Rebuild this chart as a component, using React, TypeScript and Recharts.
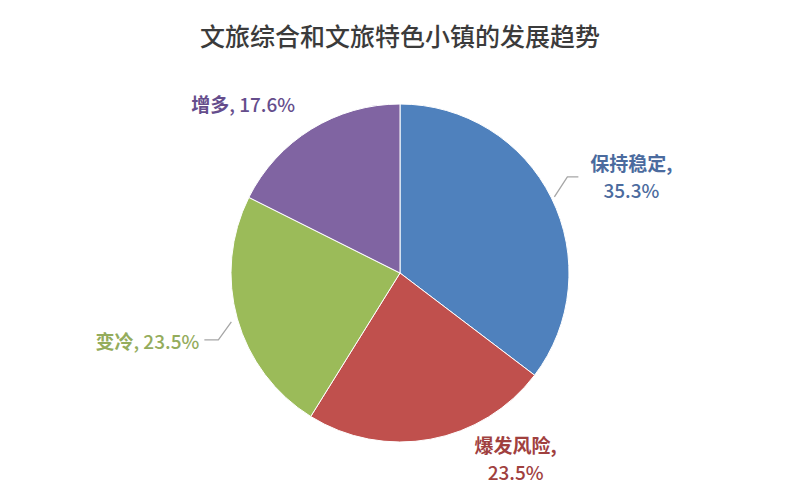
import React from 'react';
import { PieChart, Pie, Cell } from 'recharts';

const categories = ['保持稳定', '爆发风险', '变冷', '增多'];
const values = [35.3, 23.5, 23.5, 17.6];
const sliceColors = ['#4F81BD', '#C0504D', '#9BBB59', '#8064A2'];
const labelColors = ['#4B6B9E', '#A0403E', '#94AC5C', '#654D8C'];
const title = '文旅综合和文旅特色小镇的发展趋势';

const data = categories.map((name, i) => ({ name, value: values[i] }));

// label layout (offsets from the slice's outer edge point at midAngle)
const labelLayout = [
  { dx: 80, dy: -36, twoLine: true, anchor: 'middle', leader: true },
  { dx: 85, dy: 5, twoLine: true, anchor: 'middle', leader: false },
  { dx: -38, dy: 21, twoLine: false, anchor: 'end', leader: true },
  { dx: -16, dy: -26, twoLine: false, anchor: 'end', leader: false },
];

const FONT = '"Noto Sans CJK SC", "Noto Sans", sans-serif';

const renderLabel = (props: any) => {
  const { cx, cy, midAngle, outerRadius, index, name, value } = props;
  const RAD = Math.PI / 180;
  const ex = cx + outerRadius * Math.cos(-midAngle * RAD);
  const ey = cy + outerRadius * Math.sin(-midAngle * RAD);
  const L = labelLayout[index];
  const tx = ex + L.dx;
  const ty = ey + L.dy;
  const color = labelColors[index];
  const pct = `${value.toFixed(1)}%`;
  let leader: React.ReactNode = null;
  if (L.leader) {
    if (index === 0) {
      const pts = `${ex + 3},${ey - 1} ${ex + 16},${ey - 21} ${ex + 27},${ey - 21}`;
      leader = <polyline points={pts} fill="none" stroke="#A6A6A6" strokeWidth={1.3} />;
    } else {
      const pts = `${ex - 6},${ey + 3} ${ex - 19},${ey + 21} ${ex - 33},${ey + 21}`;
      leader = <polyline points={pts} fill="none" stroke="#A6A6A6" strokeWidth={1.3} />;
    }
  }
  return (
    <g key={`lbl-${index}`}>
      {leader}
      {L.twoLine ? (
        <text x={tx} y={ty} textAnchor="middle" dominantBaseline="central" fill={color} fontFamily={FONT} fontSize={19}>
          <tspan x={tx} dy={0} fontWeight={700}>{name},</tspan>
          <tspan x={tx} dy={27} fontWeight={500}>{pct}</tspan>
        </text>
      ) : (
        <text x={tx} y={ty} textAnchor={L.anchor as any} dominantBaseline="central" fill={color} fontFamily={FONT} fontSize={19}>
          <tspan fontWeight={700}>{name}</tspan>
          <tspan fontWeight={500}>, {pct}</tspan>
        </text>
      )}
    </g>
  );
};

export default function App() {
  return (
    <div style={{ position: 'absolute', left: 0, top: 0, width: 800, height: 498, background: '#fff' }}>
      <div
        style={{
          position: 'absolute',
          left: 0,
          top: 17,
          width: 800,
          textAlign: 'center',
          fontFamily: FONT,
          fontSize: 25,
          fontWeight: 500,
          color: '#3B3B3B',
          lineHeight: '36px',
        }}
      >
        {title}
      </div>
      <PieChart width={800} height={498} margin={{ top: 0, right: 0, bottom: 0, left: 0 }}>
        <Pie
          data={data}
          dataKey="value"
          nameKey="name"
          cx={400}
          cy={273}
          outerRadius={169}
          startAngle={90}
          endAngle={-270}
          stroke="#FFFFFF"
          strokeWidth={1}
          label={renderLabel}
          labelLine={false}
          isAnimationActive={false}
        >
          {data.map((d, i) => (
            <Cell key={d.name} fill={sliceColors[i]} />
          ))}
        </Pie>
      </PieChart>
    </div>
  );
}
